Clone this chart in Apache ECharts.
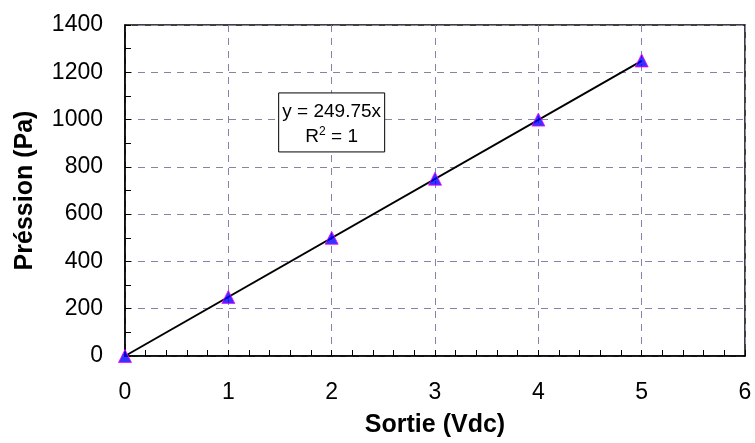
<!DOCTYPE html>
<html><head><meta charset="utf-8">
<script src="https://cdn.jsdelivr.net/npm/echarts@6/dist/echarts.min.js"></script>
<style>html,body{margin:0;padding:0;background:#fff}#c{width:755px;height:443px}</style>
</head><body><div id="c"></div>
<script>
const xValues = [0, 1, 2, 3, 4, 5];
const yValues = [0, 250, 500, 750, 1000, 1250];
const slope = 249.75;
const trendX = [0, 5];
const xTicks = [0, 1, 2, 3, 4, 5, 6];
const yTicks = [0, 200, 400, 600, 800, 1000, 1200, 1400];
const eqText = 'y = 249.75x';
const annotAt = [2, 990];

const chart = echarts.init(document.getElementById('c'));
const font = 'Liberation Sans, Arial, sans-serif';
const gridColor = '#8484a8';
const option = {
  animation: false,
  grid: {left: 125, right: 10, top: 25, bottom: 87, show: true, borderColor: '#000', borderWidth: 1.5, backgroundColor: '#fff'},
  xAxis: {
    type: 'value', min: 0, max: 6, interval: 1,
    name: 'Sortie (Vdc)', nameLocation: 'middle', nameGap: 57,
    nameTextStyle: {fontFamily: font, fontSize: 25, fontWeight: 'bold', color: '#000'},
    axisLine: {show: true, lineStyle: {color: '#000', width: 1.5}},
    axisTick: {show: true, inside: true, length: 6, lineStyle: {color: '#000'}},
    minorTick: {show: true, splitNumber: 5, length: 6, lineStyle: {color: '#000'}},
    axisLabel: {fontFamily: font, fontSize: 23, color: '#000', margin: 25, formatter: v => xTicks.includes(v) ? String(v) : ''},
    splitLine: {show: true, lineStyle: {color: gridColor, type: [7, 6], width: 1}}
  },
  yAxis: {
    type: 'value', min: 0, max: 1400, interval: 200,
    name: 'Préssion (Pa)', nameLocation: 'middle', nameGap: 87, nameRotate: 90,
    nameTextStyle: {fontFamily: font, fontSize: 25, fontWeight: 'bold', color: '#000'},
    axisLine: {show: true, lineStyle: {color: '#000', width: 1.5}},
    axisTick: {show: true, inside: true, length: 6, lineStyle: {color: '#000'}},
    minorTick: {show: true, splitNumber: 2, length: 6, lineStyle: {color: '#000'}},
    axisLabel: {fontFamily: font, fontSize: 23, color: '#000', margin: 22, formatter: v => yTicks.includes(v) ? String(v) : ''},
    splitLine: {show: true, lineStyle: {color: gridColor, type: [7, 6], width: 1}}
  },
  series: [
    {
      type: 'line', data: trendX.map(x => [x, slope * x]), symbol: 'none',
      lineStyle: {color: '#000', width: 2}, z: 3
    },
    {
      type: 'scatter', data: xValues.map((x, i) => [x, yValues[i]]),
      symbol: 'triangle', symbolSize: 13,
      itemStyle: {color: '#0000ff', borderColor: '#ff00ff', borderWidth: 1}, z: 4
    }
  ]
};
chart.setOption(option);
const p = chart.convertToPixel({gridIndex: 0}, annotAt);
chart.setOption({
  graphic: [{
    type: 'group', x: p[0], y: p[1], z: 10,
    children: [
      {type: 'rect', shape: {x: -53, y: -29, width: 106, height: 59}, style: {fill: '#fff', stroke: '#000', lineWidth: 1}},
      {type: 'text', x: 0, y: -10, style: {text: eqText, fontFamily: font, fontSize: 19, fill: '#000', align: 'center', verticalAlign: 'middle'}},
      {type: 'text', x: 0, y: 15, style: {
        text: '{n|R}{s|2}{n| = 1}',
        align: 'center', verticalAlign: 'middle',
        rich: {n: {fontFamily: font, fontSize: 19, color: '#000'}, s: {fontFamily: font, fontSize: 12, color: '#000', verticalAlign: 'top', padding: [0, 0, 10, 0]}}
      }}
    ]
  }]
});
</script></body></html>
